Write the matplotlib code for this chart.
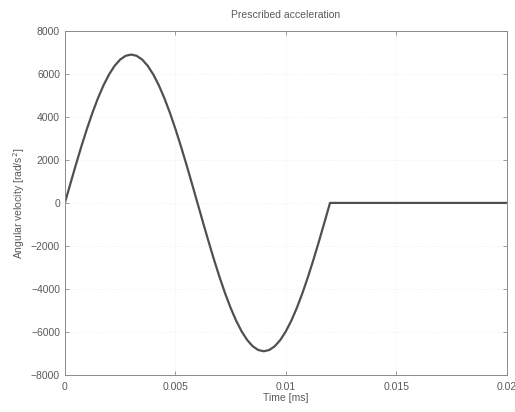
import matplotlib
matplotlib.use("Agg")
import matplotlib.pyplot as plt

# Time samples [s] and prescribed angular acceleration [rad/s^2]
time = [0.0, 0.00025, 0.0005, 0.00075, 0.001, 0.00125, 0.0015, 0.00175,
        0.002, 0.00225, 0.0025, 0.00275, 0.003, 0.00325, 0.0035, 0.00375,
        0.004, 0.00425, 0.0045, 0.00475, 0.005, 0.00525, 0.0055, 0.00575,
        0.006, 0.00625, 0.0065, 0.00675, 0.007, 0.00725, 0.0075, 0.00775,
        0.008, 0.00825, 0.0085, 0.00875, 0.009, 0.00925, 0.0095, 0.00975,
        0.01, 0.01025, 0.0105, 0.01075, 0.011, 0.01125, 0.0115, 0.01175,
        0.012, 0.02]
accel = [0, 900, 1786, 2641, 3450, 4201, 4879, 5474,
         5976, 6375, 6665, 6841, 6900, 6841, 6665, 6375,
         5976, 5474, 4879, 4201, 3450, 2641, 1786, 900,
         0, -900, -1786, -2641, -3450, -4201, -4879, -5474,
         -5976, -6375, -6665, -6841, -6900, -6841, -6665, -6375,
         -5976, -5474, -4879, -4201, -3450, -2641, -1786, -900,
         0, 0]

x_ticks = [0, 0.005, 0.01, 0.015, 0.02]
x_tick_labels = ["0", "0.005", "0.01", "0.015", "0.02"]
y_ticks = [-8000, -6000, -4000, -2000, 0, 2000, 4000, 6000, 8000]

plt.rcParams["font.family"] = ["Liberation Sans", "DejaVu Sans"]
text_color = "#5a5a5a"

fig = plt.figure(figsize=(5.15, 4.12), dpi=100)
ax = fig.add_axes([0.126, 0.09, 0.858, 0.835])

ax.plot(time, accel, color="#505050", linewidth=1.6)

ax.set_xlim(0, 0.02)
ax.set_ylim(-8000, 8000)
ax.set_xticks(x_ticks)
ax.set_xticklabels(x_tick_labels)
ax.set_yticks(y_ticks)
ax.grid(True, color="#eeeeee", linestyle=":", linewidth=0.6)

ax.tick_params(direction="in", length=3, width=0.6, colors="#8a8a8a",
               labelcolor=text_color, labelsize=7.5,
               top=True, right=True)
ax.tick_params(axis="x", pad=5)
for spine in ax.spines.values():
    spine.set_color("#8a8a8a")
    spine.set_linewidth(0.7)

ax.set_title("Prescribed acceleration", fontsize=7.5, color=text_color, pad=9)
ax.set_xlabel("Time [ms]", fontsize=7.5, color=text_color, labelpad=1)
ax.set_ylabel("Angular velocity [rad/s$^2$]", fontsize=7.5, color=text_color,
              labelpad=3)

fig.savefig("out.png", dpi=100)
